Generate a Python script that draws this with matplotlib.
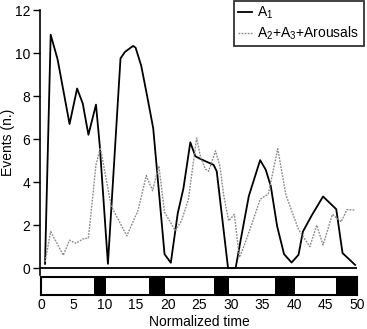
import matplotlib
matplotlib.use("Agg")
import matplotlib.pyplot as plt
from matplotlib.lines import Line2D

plt.rcParams['font.family'] = ['Liberation Sans', 'DejaVu Sans']
plt.rcParams['mathtext.fontset'] = 'custom'
plt.rcParams['mathtext.rm'] = 'Liberation Sans'
plt.rcParams['mathtext.it'] = 'Liberation Sans:italic'

# A1 phases over normalized time
a1_t = [0.6, 1.5, 2.6, 4.5, 5.7, 6.6, 7.5, 8.7, 9.3, 10.6, 12.6, 13.3, 14.6, 15.0,
        15.9, 16.9, 17.8, 19.6, 20.6, 21.7, 22.6, 23.7, 24.5, 25.5, 27.4, 27.9,
        29.7, 30.9, 31.7, 33.0, 34.8, 35.7, 36.5, 37.5, 38.6, 39.8, 40.9, 41.6,
        43.0, 44.8, 46.9, 47.9, 49.9]
a1_v = [0.2, 10.85, 9.7, 6.7, 8.35, 7.65, 6.2, 7.6, 5.7, 0.2, 9.75, 10.05, 10.33, 10.25,
        9.4, 7.9, 6.5, 0.65, 0.25, 2.55, 3.7, 5.85, 5.2, 5.05, 4.8, 4.5,
        0.0, 0.0, 1.3, 3.35, 5.02, 4.57, 3.8, 1.95, 0.65, 0.26, 0.62, 1.7,
        2.45, 3.33, 2.74, 0.7, 0.15]

# A2 + A3 + arousals over normalized time
oth_t = [0.6, 1.5, 3.5, 4.5, 5.5, 6.6, 7.5, 8.7, 9.4, 11.1, 13.6, 15.4, 16.7, 17.7,
         18.7, 19.6, 21.3, 22.3, 23.4, 24.7, 25.3, 26.1, 26.6, 27.7, 28.4, 29.0,
         29.8, 30.7, 31.5, 32.2, 33.3, 34.8, 36.1, 37.6, 38.9, 40.9, 42.7, 43.8,
         44.8, 46.3, 47.7, 48.6, 49.9]
oth_v = [0.3, 1.7, 0.6, 1.3, 1.15, 1.35, 1.4, 4.8, 5.6, 2.9, 1.5, 2.7, 4.3, 3.6,
         4.75, 2.6, 1.75, 2.2, 3.2, 6.05, 5.2, 4.6, 4.5, 5.45, 4.75, 3.4,
         2.2, 2.5, 0.5, 1.0, 1.9, 3.2, 3.45, 5.55, 3.4, 1.8, 1.0, 2.0,
         1.08, 2.5, 2.15, 2.72, 2.7]

# dark bands on the time bar (start, end)
bands = [(8.4, 10.2), (17.1, 19.5), (27.3, 29.7), (37.0, 40.1), (46.7, 50.0)]

y_ticks = [0, 2, 4, 6, 8, 10, 12]
x_ticks = [0, 5, 10, 15, 20, 25, 30, 35, 40, 45, 50]

W, H = 367, 329
FS = 10
fig = plt.figure(figsize=(W / 100, H / 100), dpi=100)

# main events panel
ax = fig.add_axes([40 / W, 54.2 / H, 317 / W, 264.8 / H])
ax.plot(a1_t, a1_v, color='black', lw=1.3, solid_joinstyle='round')
ax.plot(oth_t, oth_v, color='#8a8a8a', lw=1.0, linestyle=(0, (1.3, 0.9)))
ax.axhline(0, color='black', lw=1.3)
ax.set_xlim(-0.2, 50.2)
ax.set_ylim(-0.31, 12)
ax.set_yticks(y_ticks)
ax.set_xticks([])
for s in ['top', 'right', 'bottom']:
    ax.spines[s].set_visible(False)
ax.spines['left'].set_linewidth(1.2)
ax.tick_params(axis='y', direction='out', length=5, width=1, labelsize=FS, pad=2)
ax.set_ylabel('Events (n.)', fontsize=FS)
ax.yaxis.set_label_coords((15 - 40) / 317, 0.5)

# time bar with dark bands
ax2 = fig.add_axes([41.3 / W, 34 / H, 316 / W, 18 / H])
ax2.set_xlim(0, 50)
ax2.set_ylim(0, 1)
for a, b in bands:
    ax2.axvspan(a, b, color='black', lw=0)
ax2.set_yticks([])
ax2.set_xticks(x_ticks)
ax2.tick_params(axis='x', length=0, labelsize=FS, pad=2.5)
for s in ax2.spines.values():
    s.set_linewidth(1.5)
ax2.set_xlabel('Normalized time', fontsize=FS)
ax2.xaxis.set_label_coords(0.5, (295 - 315.5) / 18)

handles = [Line2D([], [], color='black', lw=1.3),
           Line2D([], [], color='#8a8a8a', lw=1.0, linestyle=(0, (1.3, 0.9)))]
leg = fig.legend(handles, [r'A$_\mathrm{1}$', r'A$_\mathrm{2}$+A$_\mathrm{3}$+Arousals'],
                 loc='upper right', bbox_to_anchor=(363.5 / W, 1 - 0.5 / H),
                 fontsize=FS, handlelength=1.0, handletextpad=0.4,
                 borderpad=0.3, labelspacing=0.25, borderaxespad=0,
                 frameon=True, fancybox=False)
leg.get_frame().set_edgecolor('black')
leg.get_frame().set_linewidth(1.3)

fig.savefig('out.png', dpi=100)
